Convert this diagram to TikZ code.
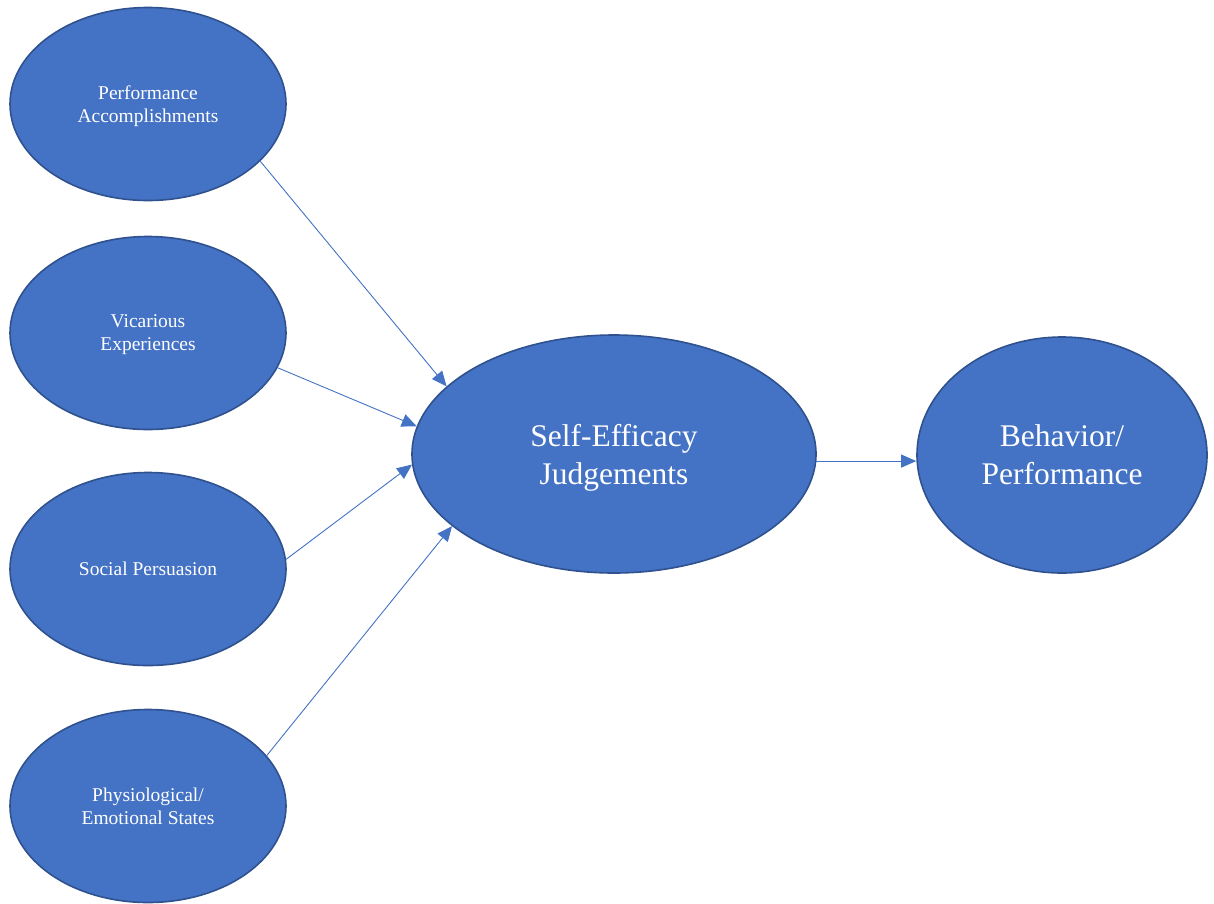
\documentclass[tikz,border=0pt]{standalone}
\usepackage{fontspec}
\setmainfont{Liberation Serif}
\usetikzlibrary{shapes.geometric,arrows.meta}
\definecolor{fillblue}{HTML}{4472C4}
\definecolor{edgeblue}{HTML}{2F528F}
\begin{document}
\begin{tikzpicture}[x=1pt,y=-1pt,
  bubble/.style={ellipse,draw=edgeblue,fill=fillblue,line width=1.6pt,inner sep=0pt,
    text=white,align=center,text depth=0pt},
  small/.style={bubble,minimum width=276pt,minimum height=193pt,font=\fontsize{19.5}{23}\selectfont},
  big/.style={bubble,font=\fontsize{31.5}{38}\selectfont},
  link/.style={draw=fillblue,line width=0.9pt,-{Triangle[length=15pt,width=13pt]}}]
\useasboundingbox (0,0) rectangle (1214,903);
\node[small] (pa) at (148,104) {Performance\\Accomplishments};
\node[small] (ve) at (148,333) {Vicarious\\Experiences};
\node[small] (sp) at (148,569) {Social Persuasion};
\node[small] (ps) at (148,806) {Physiological/\\Emotional States};
\node[big,minimum width=404pt,minimum height=238pt] (se) at (614,454) {Self-Efficacy\\Judgements};
\node[big,minimum width=290pt,minimum height=236pt] (bp) at (1062,455) {Behavior/\\Performance};
\draw[link] (pa.-27.6) -- (se.158.4);
\draw[link] (ve.-15.2) -- (se.172.7);
\draw[link] (sp.4.6) -- (se.-177.2);
\draw[link] (ps.23.5) -- (se.-156.4);
% level arrow into the result
\draw[link] (se.-2.3) -- (se.-2.3 -| bp.west);
\end{tikzpicture}
\end{document}
